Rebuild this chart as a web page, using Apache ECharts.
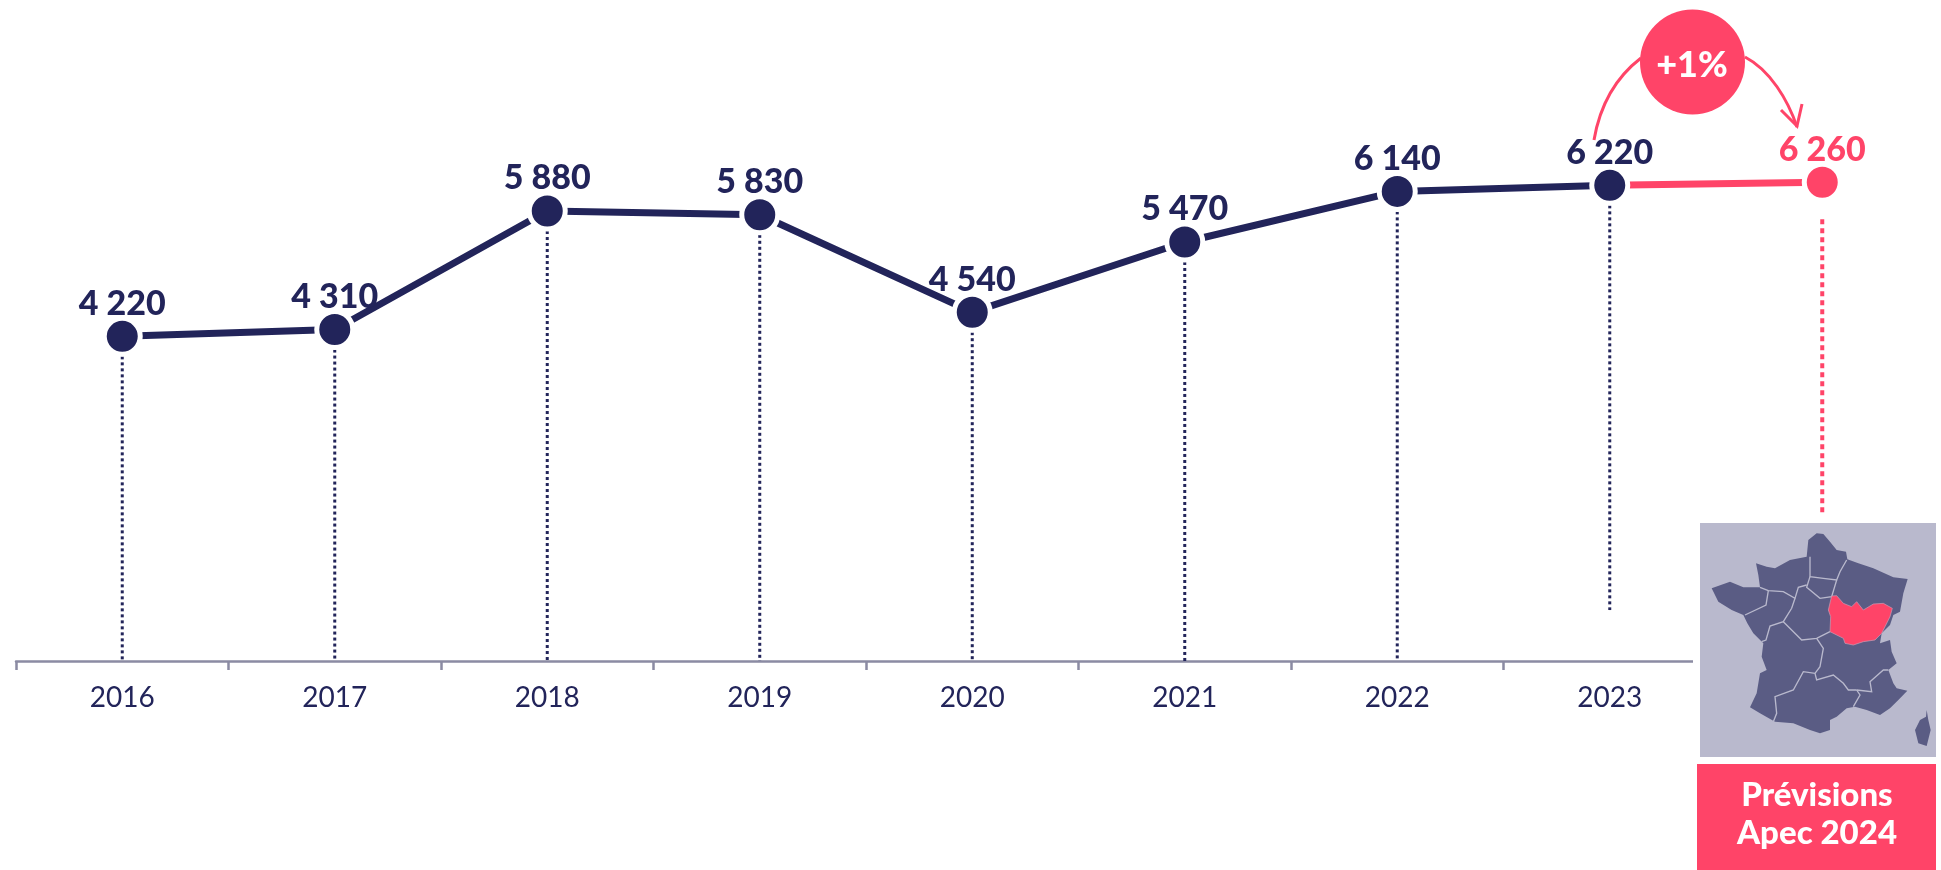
<!DOCTYPE html>
<html>
<head>
<meta charset="utf-8">
<title>Prévisions Apec 2024</title>
<script src="https://cdn.jsdelivr.net/npm/echarts@6/dist/echarts.min.js"></script>
<style>html,body{margin:0;padding:0;background:#fff}#c{width:1941px;height:870px}</style>
</head>
<body>
<div id="c"></div>
<script>
const categories = ['2016','2017','2018','2019','2020','2021','2022','2023',''];
const historyValues = [4220,4310,5880,5830,4540,5470,6140,6220];
const forecastValue = 6260;
const dropEnds = [-80,-80,-80,-80,-80,-80,-80,595,1854];
const growthLabel = '+1%';
const boxLines = ['Prévisions','Apec 2024'];

const NAVY='#22245a', PINK='#ff4468', FONT='Lato, "Noto Sans", sans-serif';
const fmt = v => String(v).replace(/\B(?=(\d{3})+$)/g,' ');
const allValues = historyValues.concat([forecastValue]);

const france = [[470,100],[490,102],[510,125],[530,150],[558,155],[562,178],[595,190],[640,205],[700,232],[743,237],[730,280],[720,335],[700,345],[690,375],[665,400],[660,430],[690,420],[695,455],[710,490],[685,510],[700,550],[710,565],[742,572],[715,600],[690,625],[660,645],[620,630],[585,620],[560,625],[530,650],[510,660],[510,690],[480,700],[450,690],[400,670],[345,665],[300,640],[270,622],[290,580],[300,520],[320,510],[305,470],[310,430],[280,400],[262,370],[250,345],[215,330],[175,305],[155,265],[210,245],[250,262],[300,262],[295,225],[288,190],[320,200],[345,205],[390,180],[440,170],[445,120]];
const corsica = [[800,630],[805,660],[812,690],[800,738],[775,730],[765,690],[780,660],[798,650]];
const bourgogne = [[515,288],[530,287],[550,310],[575,320],[590,305],[610,330],[640,312],[670,310],[697,325],[690,350],[675,380],[665,400],[645,420],[610,425],[580,435],[555,430],[550,415],[510,395],[512,350],[505,330]];
const borders = [
 [[450,170],[450,230],[490,235],[530,240],[540,215],[560,180]],
 [[450,230],[440,262],[480,295],[515,290],[530,240]],
 [[440,255],[415,262],[405,295],[370,275],[325,272],[300,262]],
 [[325,272],[318,315],[255,345]],
 [[405,295],[395,325],[370,365],[330,378],[318,420],[305,425]],
 [[370,365],[410,405],[425,420],[470,415],[510,395]],
 [[470,415],[490,445],[480,500],[465,520],[430,515],[400,570],[345,590],[350,640],[340,665]],
 [[465,520],[470,540],[520,525],[550,550],[565,570],[590,570]],
 [[590,570],[600,585],[580,620]],
 [[590,570],[635,575],[630,545],[670,510],[685,510]]
];

const mapChildren = [
 {type:'polygon',z:8,shape:{points:france},style:{fill:'#5a5c84'}},
 {type:'polygon',z:8,shape:{points:corsica},style:{fill:'#5a5c84'}}
].concat(borders.map(b=>({type:'polyline',z:9,shape:{points:b},style:{fill:null,stroke:'#b9b9cd',lineWidth:4}})))
 .concat([{type:'polygon',z:10,shape:{points:bourgogne},style:{fill:PINK,stroke:'#c9a0b8',lineWidth:2}}]);

const chart = echarts.init(document.getElementById('c'),null,{renderer:'canvas'});
chart.setOption({
 animation:false,
 backgroundColor:'#fff',
 grid:{left:16,top:0,width:1912.5,height:661,containLabel:false},
 xAxis:{type:'category',data:categories,boundaryGap:true,
  axisLine:{onZero:false,lineStyle:{color:'#8b8ba3',width:2.5}},
  axisTick:{show:true,alignWithLabel:false,length:9,lineStyle:{color:'#8b8ba3',width:2.5}},
  axisLabel:{color:NAVY,fontFamily:FONT,fontSize:28,margin:23,interval:0},
  splitLine:{show:false}},
 yAxis:{type:'value',min:-80,max:8675,show:false,splitLine:{show:false}},
 series:[
  {type:'custom',z:1,silent:true,
   data:allValues.map((v,i)=>[i,v,dropEnds[i]]),
   encode:{x:0,y:1},
   renderItem:(p,api)=>{
    const i=api.value(0), top=api.coord([i,api.value(1)]), end=api.coord([i,api.value(2)]);
    const fc=i===8;
    return {type:'line',shape:{x1:top[0],y1:top[1]+(fc?37:20),x2:end[0],y2:end[1]},
      style:{stroke:fc?PINK:NAVY,lineWidth:fc?4:3,lineDash:fc?[5,4]:[3,3],fill:null}};
   }},
  {type:'line',z:2,data:categories.map((c,i)=>i===7?{value:historyValues[7],symbol:'none',label:{show:false}}:i===8?forecastValue:null),
   symbol:'circle',symbolSize:36,showSymbol:true,
   lineStyle:{color:PINK,width:7},
   itemStyle:{color:PINK,borderColor:'#fff',borderWidth:5},
   label:{show:true,position:'top',distance:-5,color:PINK,fontFamily:FONT,fontWeight:900,fontSize:34,formatter:p=>fmt(p.value)}},
  {type:'line',z:3,data:historyValues,
   symbol:'circle',symbolSize:36,showSymbol:true,
   lineStyle:{color:NAVY,width:7},
   itemStyle:{color:NAVY,borderColor:'#fff',borderWidth:5},
   label:{show:true,position:'top',distance:-5,color:NAVY,fontFamily:FONT,fontWeight:900,fontSize:34,formatter:p=>fmt(p.value)}}
 ],
 graphic:[
  {type:'bezierCurve',z:5,shape:{x1:1594,y1:140,cpx1:1600,cpy1:105,x2:1641,y2:58,cpx2:1615,cpy2:78},style:{stroke:PINK,lineWidth:3,fill:null}},
  {type:'bezierCurve',z:5,shape:{x1:1745,y1:57,cpx1:1770,cpy1:70,x2:1797,y2:127,cpx2:1788,cpy2:100},style:{stroke:PINK,lineWidth:3,fill:null}},
  {type:'polyline',z:5,shape:{points:[[1781,110],[1797,126],[1802,104]]},style:{stroke:PINK,lineWidth:3,fill:null}},
  {type:'circle',z:6,shape:{cx:1692.5,cy:62,r:52.5},style:{fill:PINK}},
  {type:'text',z:7,x:1692,y:65,style:{text:growthLabel,fill:'#fff',font:'900 36px '+FONT,textAlign:'center',textVerticalAlign:'middle'}},
  {type:'rect',z:5,shape:{x:1693,y:650,width:248,height:30},style:{fill:'#fff'}},
  {type:'rect',z:6,shape:{x:1700,y:523,width:236,height:234},style:{fill:'#b9b9cd'}},
  {type:'group',z:7,x:1660,y:500,scaleX:1/3,scaleY:1/3,children:mapChildren},
  {type:'rect',z:6,shape:{x:1697,y:764,width:239,height:106},style:{fill:PINK}},
  {type:'text',z:7,x:1817,y:795,style:{text:boxLines[0],fill:'#fff',font:'900 33px '+FONT,textAlign:'center',textVerticalAlign:'middle'}},
  {type:'text',z:7,x:1817,y:833,style:{text:boxLines[1],fill:'#fff',font:'900 33px '+FONT,textAlign:'center',textVerticalAlign:'middle'}}
 ]
});
</script>
</body>
</html>
